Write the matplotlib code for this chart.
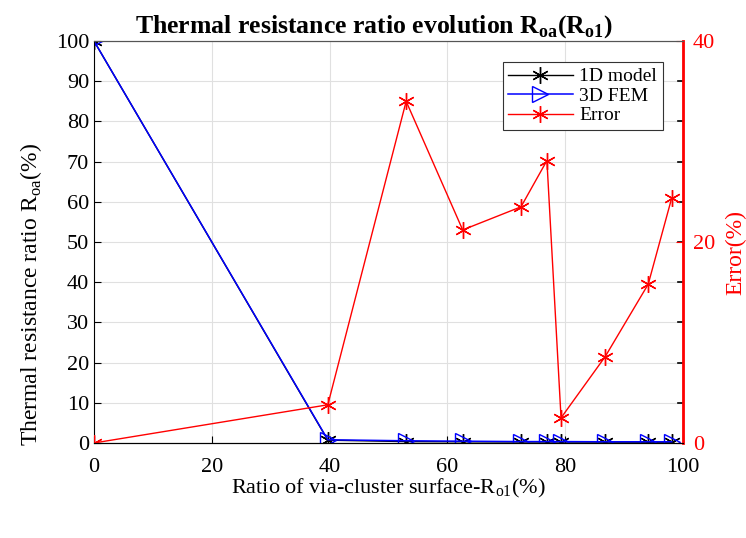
import numpy as np
import matplotlib.pyplot as plt

plt.rcParams['font.family'] = ['Liberation Serif', 'DejaVu Serif']
plt.rcParams['mathtext.fontset'] = 'custom'
plt.rcParams['mathtext.rm'] = 'Liberation Serif'
plt.rcParams['mathtext.bf'] = 'Liberation Serif:bold'

# ratio of via-cluster surface (%)
ratio = [0, 39.7, 53.0, 62.6, 72.5, 76.9, 79.3, 86.8, 94.1, 98.1]
# thermal resistance ratio (%)
model_1d = [100, 0.7, 0.35, 0.3, 0.25, 0.25, 0.25, 0.22, 0.2, 0.2]
fem_3d = [100, 0.8, 0.55, 0.45, 0.35, 0.35, 0.35, 0.3, 0.3, 0.3]
# error (%)
error = [0, 3.8, 34.0, 21.2, 23.5, 28.1, 2.5, 8.6, 15.8, 24.4]

fig = plt.figure(figsize=(7.46, 5.38), dpi=100)
ax = fig.add_axes([0.126, 0.1766, 0.7895, 0.7472])
ax2 = ax.twinx()

l1, = ax.plot(ratio, model_1d, color='black', marker=(6, 2, 0), markersize=12,
              lw=1, label='1D model')
l2, = ax.plot(ratio, fem_3d, color='blue', marker='>', markersize=12,
              markerfacecolor='none', lw=1.1, label='3D FEM')
l3, = ax2.plot(ratio, error, color='red', marker=(6, 2, 0), markersize=12,
               lw=1, label='Error')

ax.set_xlim(0, 100)
ax.set_ylim(0, 100)
ax2.set_ylim(0, 40)
ax.set_xticks(np.arange(0, 101, 20))
ax.set_yticks(np.arange(0, 101, 10))
ax2.set_yticks([0, 20, 40])

ax.grid(True, color='#e0e0e0', lw=0.8)
ax.set_axisbelow(True)

ax.tick_params(direction='in', length=5, labelsize=16, right=False, top=False)
ax.tick_params(axis='x', pad=11)
ax2.tick_params(direction='in', length=5, labelsize=16, colors='red', pad=7)
ax.spines['top'].set_color('#555555')
ax2.spines['top'].set_color('#555555')
ax2.spines['right'].set_color('red')
ax2.spines['right'].set_linewidth(2)
ax2.spines['left'].set_visible(False)

# mirrored left ticks on right side
for yv in np.arange(10, 100, 10):
    ax.plot([99.2, 100], [yv, yv], color='black', lw=1.2, clip_on=False)

ax.set_title(r'Thermal resistance ratio evolution R$_{\mathbf{oa}}$(R$_{\mathbf{o1}}$)',
             fontsize=18.5, fontweight='bold', pad=6, x=0.475)
ax.set_xlabel(r'Ratio of via-cluster surface-R$_{\mathrm{o1}}$(%)', fontsize=16)
ax.set_ylabel(r'Thermal resistance ratio R$_{\mathrm{oa}}$(%)', fontsize=17)
ax2.set_ylabel('Error(%)', fontsize=17, color='red')
ax.xaxis.set_label_coords(0.5, -0.085)
ax.yaxis.set_label_coords(-0.085, 0.37)
ax2.yaxis.set_label_coords(1.072, 0.475)

leg = ax2.legend(handles=[l1, l2, l3], loc='upper right', bbox_to_anchor=(0.966, 0.948),
                 fontsize=14, fancybox=False, edgecolor='#333333', framealpha=1,
                 handlelength=3.3, handletextpad=0.35, borderpad=0.3,
                 labelspacing=0.1, borderaxespad=0)
leg.get_frame().set_linewidth(0.8)

fig.savefig('out.png', dpi=100)
